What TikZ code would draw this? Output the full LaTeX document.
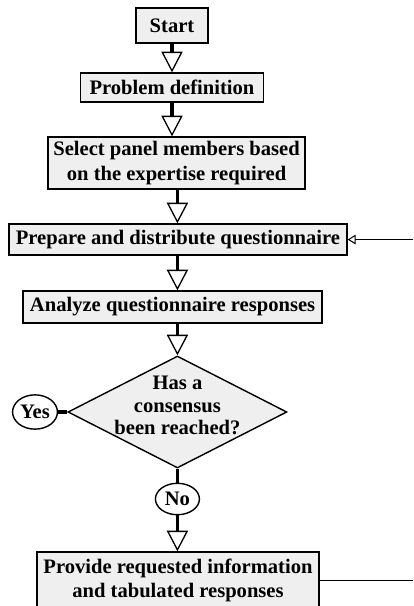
\documentclass[tikz,border=0pt]{standalone}
\usepackage{fontspec}
\setmainfont{Liberation Serif}
\usetikzlibrary{positioning,arrows.meta,shapes.geometric,calc}
\definecolor{boxFill}{HTML}{EFEFEF}
\tikzset{
  blk/.style={draw, line width=1.4pt, fill=boxFill, align=center,
              inner sep=1pt, font=\bfseries\fontsize{20.5}{24}\selectfont},
  box/.style={blk},
  decision/.style={blk, shape=diamond, inner sep=0pt, aspect=2},
  answer/.style={blk, ellipse, fill=white, minimum width=1.54cm,
                 minimum height=1.2cm},
  % thick stem, hollow head
  flow/.style={-{Triangle[open, fill=white, line width=1.3pt,
               length=0.72cm, width=0.74cm]}, line width=3pt},
  stem/.style={line width=3pt},
  back/.style={-{Triangle[open, fill=white, line width=1pt,
               length=0.28cm, width=0.34cm]}, line width=1pt},
  rail/.style={line width=1pt},
}

\begin{document}
\begin{tikzpicture}

\useasboundingbox (0,0) rectangle (14.455,-21.21);
\clip (0,0) rectangle (14.455,-21.21);

%% ── main column on fixed coordinates ─────────────────────────────────────
\node[box, minimum width=2.52cm, minimum height=1.225cm] (start)
  at (6.02,-0.893) {Start};
\node[box, minimum width=6.405cm, minimum height=1.015cm] (problem)
  at (6.02,-3.063) {Problem definition};
\node[box, minimum width=8.995cm, minimum height=1.82cm] (panel)
  at (6.18,-5.705) {Select panel members based\\on the expertise required};
\node[box, minimum width=11.83cm, minimum height=1.085cm] (prepare)
  at (6.23,-8.383) {Prepare and distribute questionnaire};
\node[box, minimum width=10.465cm, minimum height=1.12cm] (analyze)
  at (6.04,-10.745) {Analyze questionnaire responses};
\node[decision, minimum width=7.665cm, minimum height=3.92cm] (consensus)
  at (6.21,-14.42) {};
\node[font=\bfseries\fontsize{20.5}{22.5}\selectfont, align=center] (ask)
  at (6.21,-14.2) {Has a\\consensus\\been reached?};
\node[answer] (yes) at (1.225,-14.42) {Yes};
\node[answer, minimum height=1.1cm] (no) at (6.21,-17.465) {No};
\node[box, minimum width=9.87cm, minimum height=1.96cm] (provide)
  at (6.23,-20.3) {Provide requested information\\and tabulated responses};

%% ── forward path ─────────────────────────────────────────────────────────
\draw[flow] (start.south) -- (start.south |- problem.north);
\draw[flow] (problem.south) -- (problem.south |- panel.north);
\draw[flow] (consensus.north |- panel.south) -- (consensus.north |- prepare.north);
\draw[flow] (consensus.north |- prepare.south) -- (consensus.north |- analyze.north);
\draw[flow] (consensus.north |- analyze.south) -- (consensus.north);
\draw[stem] (yes.east) -- (consensus.west);
\draw[stem] (consensus.south) -- (no.north);
\draw[flow] (no.south) -- (no.south |- provide.north);

%% ── loop back, off the right edge ────────────────────────────────────────
\coordinate (outA) at (14.455,0 |- provide.east);
\coordinate (outB) at (14.455,0 |- prepare.east);
\draw[rail] (provide.east) -- (outA);
\draw[back] (outB) -- (prepare.east);

\end{tikzpicture}
\end{document}
